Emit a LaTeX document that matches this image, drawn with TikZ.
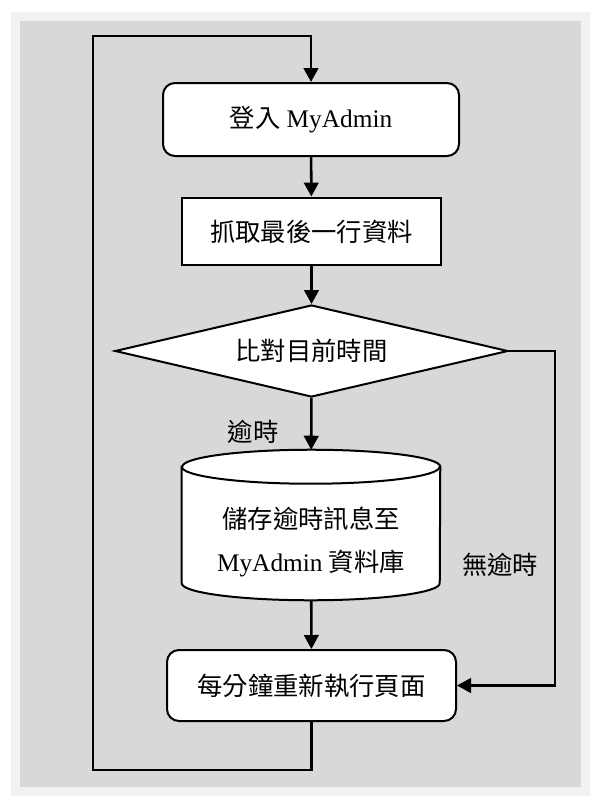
\documentclass[tikz,border=0pt]{standalone}
\usepackage{fontspec}
\setmainfont{Liberation Serif}
\newfontfamily\cjk{Noto Sans CJK TC}
\usepackage{xcolor}
\usetikzlibrary{shapes.geometric,arrows.meta}
\definecolor{framegray}{RGB}{242,242,242}
\definecolor{panelgray}{RGB}{216,216,216}

\begin{document}
\begin{tikzpicture}[x=0.75pt,y=0.75pt,
        font=\fontsize{19pt}{24pt}\selectfont,
        flow/.style={-{Triangle[length=10.5pt,width=11pt]},line width=1.9pt},
        roundbox/.style={draw,fill=white,line width=1.5pt,rounded corners=9pt},
        plainbox/.style={draw,fill=white,line width=2.2pt},
        decide/.style={diamond,draw,fill=white,line width=1.5pt,inner sep=0pt,aspect=4.27},
        store/.style={inner sep=0pt,align=center}]
        \useasboundingbox (0,0) rectangle (606,-807);

        % background
        \fill[framegray] (11,-12) rectangle (590,-796);
        \fill[panelgray] (20,-21) rectangle (581,-787);

        % steps
        \node[roundbox,minimum width=222pt,minimum height=54.75pt] (login) at (311,-119.5) {{\cjk 登入} MyAdmin};
        \node[plainbox,minimum width=194.25pt,minimum height=50.25pt] (fetch) at (311.5,-231.5) {\cjk 抓取最後一行資料};
        \node[decide,minimum width=294.75pt,minimum height=69pt] (cmp) at (311.5,-351) {\cjk 比對目前時間};
        \node[store,minimum width=193.5pt,minimum height=112.5pt] (db) at (311,-525) {};
        \node[roundbox,minimum width=216.75pt,minimum height=53.25pt] (refresh) at (311.5,-685.5) {\cjk 每分鐘重新執行頁面};

        % database cylinder
        \fill[white,draw=black,line width=1.5pt] (db.north west) ++(0,-17)
            -- ([yshift=12.75pt]db.south west)
            arc[start angle=180,end angle=360,x radius=129,y radius=17]
            -- ([yshift=-12.75pt]db.north east)
            arc[start angle=0,end angle=180,x radius=129,y radius=17] -- cycle;
        \draw[line width=1.5pt] ([yshift=-12.75pt]db.north west)
            arc[start angle=180,end angle=360,x radius=129,y radius=17];
        \node[store] (dbtext) at (311,-542) {{\cjk 儲存逾時訊息至}\\[8pt]MyAdmin {\cjk 資料庫}};

        % loop corners
        \coordinate (loopbl) at (93,-770);
        \coordinate (looptl) at (93,-36);

        % connectors
        \draw[flow] (login) -- (fetch);
        \draw[flow] (fetch) -- (cmp);
        \draw[flow] (cmp) -- (db);
        \draw[flow] (db) -- (refresh);
        \draw[flow] (cmp.east) -- ++(46,0) |- (refresh.east);
        \draw[flow] (refresh.south) |- (loopbl) -- (looptl) -| (login.north);

        % labels
        \node (late) at (253,-432) {\cjk 逾時};
        \node (ontime) at (500,-565) {\cjk 無逾時};
    \end{tikzpicture}
\end{document}
